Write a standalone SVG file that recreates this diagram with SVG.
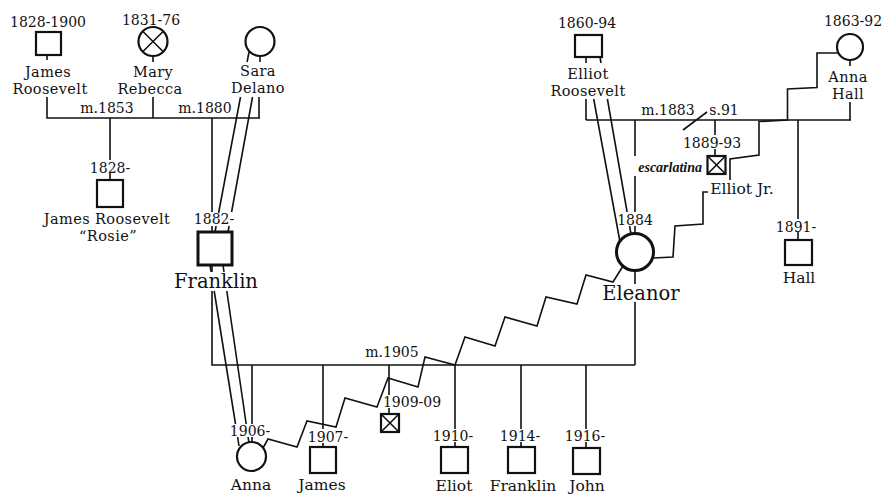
<svg xmlns="http://www.w3.org/2000/svg" width="883" height="495" viewBox="0 0 883 495">
<style>
text{font-family:"DejaVu Serif","Liberation Serif",serif;fill:#111;text-anchor:middle}
.d{font-size:14px}
.n{font-size:15.5px}
.m{font-size:14.5px;letter-spacing:0.4px}
.b{font-size:19.5px}
.i{font-family:"Liberation Serif",serif;font-style:italic;font-weight:bold;font-size:14px;text-anchor:end}
.c{fill:none;stroke:#111;stroke-width:1.6;stroke-linejoin:miter}
.s{fill:#fff;stroke:#111;stroke-width:2.2}
.t{fill:#fff;stroke:#111;stroke-width:3}
.x{fill:none;stroke:#111;stroke-width:1.6}
</style>
<rect width="883" height="495" fill="#fff"/>
<g id="connectors" class="c">
<path d="M47 55V60M47 97V118H260M153 56V62M153 97V118M260 56V62M259 97V118M110 118V160M110 173V180"/>
<path d="M212 118V212M212 226V232M212 265V272M212 291V365H635M635 270V284M635 302V365"/>
<path d="M249 52L247.1 62M240.5 97L218.6 213M216.1 226L215 232"/>
<path d="M252.5 97L231.6 212M229.1 226L228 232"/>
<path d="M210 265L211.1 272M214.2 291L235.5 424M237.6 437L239 446"/>
<path d="M223 265L224 272M226.8 291L246.2 424M248.1 437L249 443"/>
<path d="M252 365V424M252 437V443M323 365V429M323 443V447M389 365V395M389 408V414M455 365V429M455 442V447M521 365V429M521 442V447M586 365V429M586 442V448"/>
<path d="M263 448L268 439L297 447L307 421L336 427L345 398L377 407L388 378L418 387L425 357L455 365L465 337L495 346L505 317L537 326L546 297L577 304L586 275L613 282L623 266"/>
<path d="M586 120H851M586 57V63M586 99V120M593.7 99L620 242M600 57L601 63M607.4 99L627.1 212M629.6 226L631 234M850 60V66M850 102V120"/>
<path d="M683 130L707 112"/>
<path d="M635 120V156M635 176V212M635 226V234M715 120V135M715 149V156M798 120V219M798 232V240"/>
<path d="M838 53H817V87.5L787.5 89V120L759 121.5V155L730 159V180M708 192H703V224L675 226L673 257L653 258"/>
</g>
<g id="james-roosevelt">
<rect class="s" x="36" y="32" width="25" height="23"/>
<text class="d" x="48" y="27">1828-1900</text>
<text class="m"><tspan x="48" y="77">James</tspan><tspan x="50" y="94">Roosevelt</tspan></text>
</g>
<g id="mary-rebecca">
<circle class="s" cx="153" cy="41.5" r="14.5"/>
<path class="x" d="M142.7 31.2L163.3 51.8M163.3 31.2L142.7 51.8"/>
<text class="d" x="151" y="25">1831-76</text>
<text class="m"><tspan x="153" y="77">Mary</tspan><tspan x="150" y="94">Rebecca</tspan></text>
</g>
<g id="sara-delano">
<circle class="s" cx="260" cy="41.5" r="14.5"/>
<text class="m"><tspan x="258" y="76">Sara</tspan><tspan x="258" y="93">Delano</tspan></text>
</g>
<g id="marriage-labels-left">
<text class="d" x="107" y="113">m.1853</text>
<text class="d" x="205" y="113">m.1880</text>
</g>
<g id="james-rosie">
<rect class="s" x="97" y="180" width="26" height="27"/>
<text class="d" x="110" y="173">1828-</text>
<text class="m"><tspan x="107" y="224">James Roosevelt</tspan><tspan x="108" y="241">“Rosie”</tspan></text>
</g>
<g id="franklin">
<rect class="t" x="198" y="232" width="34" height="33"/>
<text class="d" x="214" y="224">1882-</text>
<text class="b" x="216" y="288">Franklin</text>
</g>
<g id="elliot-roosevelt">
<rect class="s" x="575" y="35" width="27" height="22"/>
<text class="d" x="587" y="28">1860-94</text>
<text class="m"><tspan x="588" y="79">Elliot</tspan><tspan x="588" y="96">Roosevelt</tspan></text>
</g>
<g id="anna-hall">
<circle class="s" cx="850" cy="47" r="13"/>
<text class="d" x="853" y="26">1863-92</text>
<text class="m"><tspan x="848" y="82">Anna</tspan><tspan x="848" y="99">Hall</tspan></text>
</g>
<g id="marriage-labels-right">
<text class="d" x="668" y="115">m.1883</text>
<text class="d" x="724" y="115">s.91</text>
</g>
<g id="elliot-jr">
<rect class="s" x="707.5" y="156" width="18" height="18"/>
<path class="x" d="M707.5 156L725.5 174M725.5 156L707.5 174"/>
<text class="d" x="712" y="148">1889-93</text>
<text class="i" x="702" y="172">escarlatina</text>
<text class="n" x="742" y="194">Elliot Jr.</text>
</g>
<g id="hall">
<rect class="s" x="785" y="240" width="27" height="25"/>
<text class="d" x="796" y="232">1891-</text>
<text class="n" x="799" y="283">Hall</text>
</g>
<g id="eleanor">
<circle class="t" cx="635" cy="252" r="18.5"/>
<text class="d" x="635" y="225">1884</text>
<text class="b" x="641" y="300">Eleanor</text>
</g>
<g id="marriage-label-bottom">
<text class="d" x="392" y="357">m.1905</text>
</g>
<g id="anna">
<circle class="s" cx="251.5" cy="456.5" r="14.5"/>
<text class="d" x="250" y="436">1906-</text>
<text class="n" x="251" y="490">Anna</text>
</g>
<g id="james">
<rect class="s" x="310" y="447" width="26" height="26"/>
<text class="d" x="328" y="442">1907-</text>
<text class="n" x="322" y="490">James</text>
</g>
<g id="child-1909">
<rect class="s" x="381" y="414" width="18" height="18"/>
<path class="x" d="M381 414L399 432M399 414L381 432"/>
<text class="d" x="412" y="407">1909-09</text>
</g>
<g id="eliot">
<rect class="s" x="441" y="447" width="27" height="26"/>
<text class="d" x="453" y="441">1910-</text>
<text class="n" x="454" y="491">Eliot</text>
</g>
<g id="franklin-jr">
<rect class="s" x="508" y="447" width="27" height="26"/>
<text class="d" x="520" y="441">1914-</text>
<text class="n" x="523" y="491">Franklin</text>
</g>
<g id="john">
<rect class="s" x="573" y="448" width="27" height="26"/>
<text class="d" x="585" y="441">1916-</text>
<text class="n" x="587" y="491">John</text>
</g>
</svg>
